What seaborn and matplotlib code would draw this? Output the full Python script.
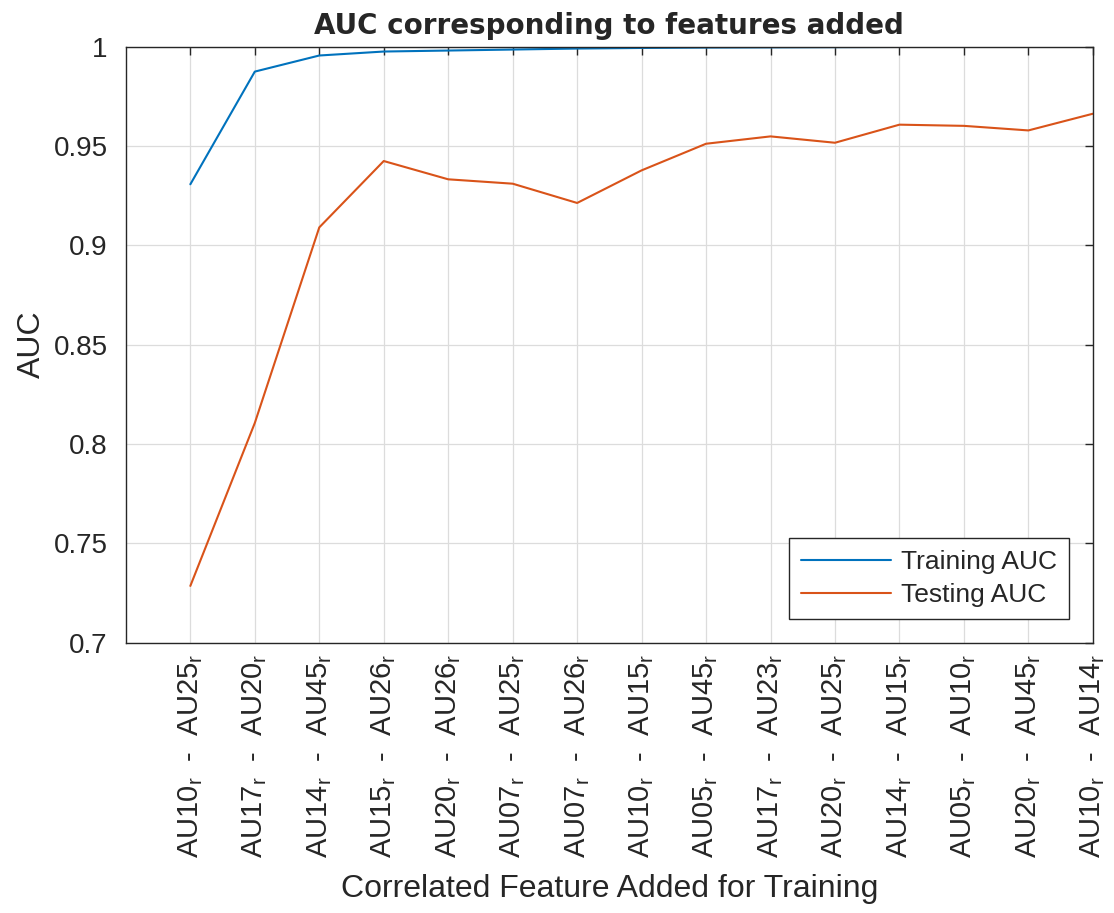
import numpy as np
import pandas as pd
import matplotlib
matplotlib.use("Agg")
import matplotlib.pyplot as plt
import seaborn as sns

# feature pairs added in order (MATLAB-style subscript r)
pairs = [("AU10", "AU25"), ("AU17", "AU20"), ("AU14", "AU45"), ("AU15", "AU26"),
         ("AU20", "AU26"), ("AU07", "AU25"), ("AU07", "AU26"), ("AU10", "AU15"),
         ("AU05", "AU45"), ("AU17", "AU23"), ("AU20", "AU25"), ("AU14", "AU15"),
         ("AU05", "AU10"), ("AU20", "AU45"), ("AU10", "AU14")]
tick_labels = [f"{a}$_{{\\rm r}}$  -  {b}$_{{\\rm r}}$" for a, b in pairs]

training_auc = [0.9307, 0.9874, 0.9955, 0.9975, 0.9980, 0.9985, 0.9990, 0.9993,
                0.9995, 0.9996, 0.9997, 0.9998, 0.9999, 0.9999, 1.0000]
testing_auc = [0.7286, 0.8106, 0.9090, 0.9424, 0.9332, 0.9310, 0.9213, 0.9377,
               0.9511, 0.9548, 0.9516, 0.9607, 0.9601, 0.9578, 0.9662]

step = np.arange(1, len(pairs) + 1)
df = pd.concat([
    pd.DataFrame({"step": step, "AUC": training_auc, "series": "Training AUC"}),
    pd.DataFrame({"step": step, "AUC": testing_auc, "series": "Testing AUC"}),
])

sns.set_style("white")
plt.rcParams["font.family"] = ["Liberation Sans", "DejaVu Sans"]
plt.rcParams["mathtext.fontset"] = "custom"
plt.rcParams["mathtext.rm"] = "Liberation Sans"

fig, ax = plt.subplots(figsize=(11.14, 9.13), dpi=100)
sns.lineplot(data=df, x="step", y="AUC", hue="series",
             palette={"Training AUC": "#0072BD", "Testing AUC": "#D95319"},
             linewidth=1.5, ax=ax)

ax.set_xlim(0, 15)
ax.set_ylim(0.7, 1.0)
ax.set_xticks(step)
ax.set_xticklabels(tick_labels, rotation=90, fontsize=21, color="#262626")
yt = [0.7, 0.75, 0.8, 0.85, 0.9, 0.95, 1.0]
ax.set_yticks(yt)
ax.set_yticklabels([f"{v:g}" for v in yt], fontsize=20, color="#262626")
ax.tick_params(direction="in", length=6, width=1, top=True, right=True,
               color="#262626")
ax.tick_params(axis="x", pad=8)
ax.tick_params(axis="y", pad=13)
ax.grid(True, color="#dcdcdc", linewidth=0.9)
for s in ax.spines.values():
    s.set_color("#262626")
    s.set_linewidth(1.0)

ax.set_title("AUC corresponding to features added", fontsize=20,
             fontweight="bold", family=["DejaVu Sans"], pad=9)
ax.set_xlabel("Correlated Feature Added for Training", fontsize=23,
              color="#262626", labelpad=11)
ax.set_ylabel("AUC", fontsize=23, color="#262626", labelpad=5)

leg = ax.legend(loc="lower right", fontsize=19, frameon=True, fancybox=False,
                edgecolor="#262626", framealpha=1, handlelength=3.4,
                handletextpad=0.4, borderaxespad=0.9, borderpad=0.45,
                labelspacing=0.35)
leg.get_frame().set_linewidth(1.0)

fig.subplots_adjust(left=0.113, right=0.981, top=0.949, bottom=0.296)
fig.savefig("out.png", dpi=100)
